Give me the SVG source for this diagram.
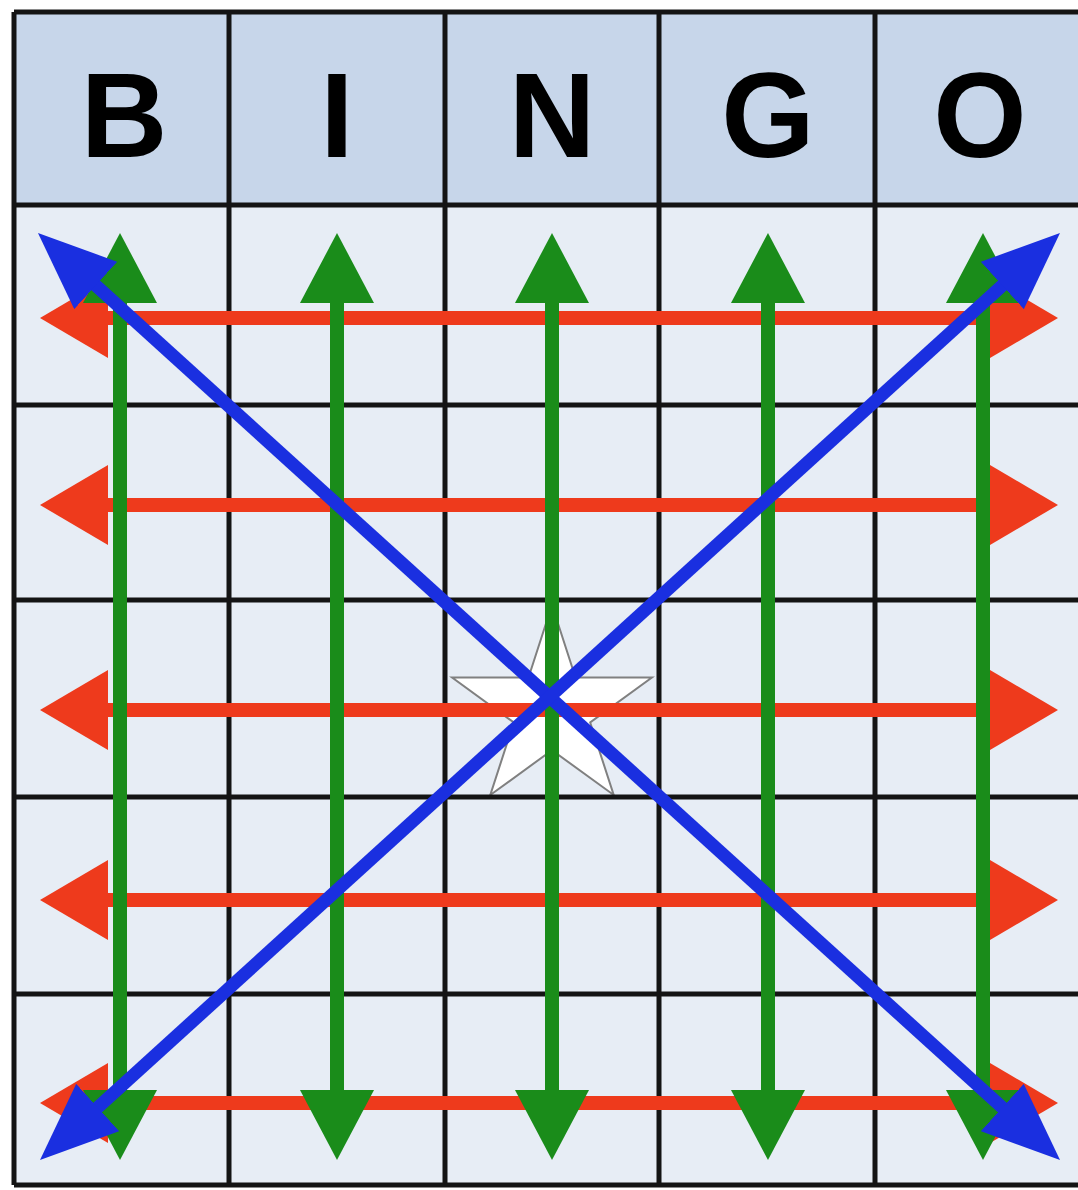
<svg xmlns="http://www.w3.org/2000/svg" width="1078" height="1190" viewBox="0 0 1078 1190">
<style>
.hdr{fill:#c7d6ea}
.cell{fill:#e7edf5}
.gl{stroke:#141414;stroke-width:5;fill:none}
.lt{font-family:"Liberation Sans",Arial,sans-serif;font-weight:bold;font-size:120px;fill:#000;text-anchor:middle}
.red{stroke:#ee3a1c;stroke-width:14;fill:none;marker-start:url(#mr);marker-end:url(#mr)}
.grn{stroke:#1a8c1a;stroke-width:14;fill:none;marker-start:url(#mg);marker-end:url(#mg)}
.blu{stroke:#1a2fe0;stroke-width:13;fill:none;marker-start:url(#mb);marker-end:url(#mb)}
</style>
<defs>
<marker id="mr" viewBox="0 0 68 80" markerUnits="userSpaceOnUse" markerWidth="68" markerHeight="80" refX="38" refY="40" orient="auto-start-reverse"><path d="M0,0 L68,40 L0,80 z" fill="#ee3a1c"/></marker>
<marker id="mg" viewBox="0 0 70 74" markerUnits="userSpaceOnUse" markerWidth="70" markerHeight="74" refX="40" refY="37" orient="auto-start-reverse"><path d="M0,0 L70,37 L0,74 z" fill="#1a8c1a"/></marker>
<marker id="mb" viewBox="0 0 78 64" markerUnits="userSpaceOnUse" markerWidth="78" markerHeight="64" refX="48" refY="32" orient="auto-start-reverse"><path d="M0,0 L78,32 L0,64 z" fill="#1a2fe0"/></marker>
</defs>
<rect x="0" y="0" width="1078" height="1190" fill="#ffffff"/>
<g id="header">
<g id="hB"><rect class="hdr" x="14" y="12" width="215" height="193"/><text class="lt" x="124" y="157">B</text></g>
<g id="hI"><rect class="hdr" x="229" y="12" width="216" height="193"/><text class="lt" x="337" y="157">I</text></g>
<g id="hN"><rect class="hdr" x="445" y="12" width="214" height="193"/><text class="lt" x="552" y="157">N</text></g>
<g id="hG"><rect class="hdr" x="659" y="12" width="216" height="193"/><text class="lt" x="768" y="157">G</text></g>
<g id="hO"><rect class="hdr" x="875" y="12" width="203" height="193"/><text class="lt" x="980" y="157">O</text></g>
</g>
<g id="board">
<rect class="cell" x="14" y="205" width="1064" height="980"/>
</g>
<g id="free-star">
<polygon points="552,605 575.5,677.6 651.9,677.6 590.2,722.5 613.7,795 552,750.2 490.3,795 513.8,722.5 452.1,677.6 528.5,677.6" fill="#ffffff" stroke="#808080" stroke-width="2"/>
</g>
<g id="grid" class="gl">
<line x1="14" y1="12" x2="1078" y2="12"/>
<line x1="14" y1="205" x2="1078" y2="205"/>
<line x1="14" y1="405" x2="1078" y2="405"/>
<line x1="14" y1="600" x2="1078" y2="600"/>
<line x1="14" y1="797" x2="1078" y2="797"/>
<line x1="14" y1="994" x2="1078" y2="994"/>
<line x1="14" y1="1185" x2="1078" y2="1185"/>
<line x1="14" y1="12" x2="14" y2="1185"/>
<line x1="229" y1="12" x2="229" y2="1185"/>
<line x1="445" y1="12" x2="445" y2="1185"/>
<line x1="659" y1="12" x2="659" y2="1185"/>
<line x1="875" y1="12" x2="875" y2="1185"/>
</g>
<g id="connectors">
<line class="red" x1="70" y1="318" x2="1028" y2="318"/>
<line class="red" x1="70" y1="505" x2="1028" y2="505"/>
<line class="red" x1="70" y1="710" x2="1028" y2="710"/>
<line class="red" x1="70" y1="900" x2="1028" y2="900"/>
<line class="red" x1="70" y1="1103" x2="1028" y2="1103"/>
<line class="grn" x1="120" y1="263" x2="120" y2="1130"/>
<line class="grn" x1="337" y1="263" x2="337" y2="1130"/>
<line class="grn" x1="552" y1="263" x2="552" y2="1130"/>
<line class="grn" x1="768" y1="263" x2="768" y2="1130"/>
<line class="grn" x1="983" y1="263" x2="983" y2="1130"/>
<line class="blu" x1="60.2" y1="253.2" x2="1037.8" y2="1139.8"/>
<line class="blu" x1="1037.8" y1="253.2" x2="62.2" y2="1139.8"/>
</g>
</svg>
